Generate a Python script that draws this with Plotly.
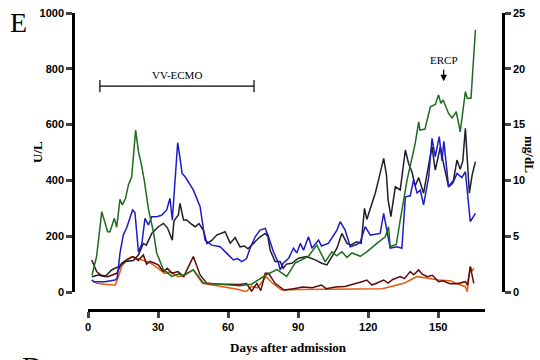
import plotly.graph_objects as go

# ---- data ----
green_days = [1.7, 3.7, 5.9, 6.9, 8.4, 9.4, 11.3, 12.3, 13.7, 14.7, 16.1, 17.3, 18.7, 20.4, 21.6, 22.7,
              24.1, 25.9, 28, 29.4, 32.3, 35.9, 38.7, 41.1, 45.1, 49.4, 55, 60, 65, 70, 73.7, 76, 80.9,
              82.9, 85.1, 88.7, 91.6, 94.4, 98, 99.4, 101.6, 104.4, 106.5, 108.7, 110.9, 113, 116.6,
              119.4, 121, 123.7, 127.3, 128.7, 129.4, 132, 133.7, 136.6, 140.1, 141.6, 142.1, 144.3,
              146.6, 148.7, 150.1, 151.1, 152.1, 154.4, 155.9, 157.7, 159.4, 161.6, 162.4, 164, 165.9]
green_mgdl = [1.5, 3.2, 7.2, 6.5, 5.4, 5.4, 6.6, 5.8, 8.3, 7.8, 8.4, 9.6, 10.3, 14.5, 12.6, 11.6,
              10.0, 7.4, 5.4, 3.5, 2.0, 1.4, 1.6, 1.5, 2.0, 0.8, 0.7, 0.6, 0.55, 0.7, 1.2, 1.5, 2.0,
              1.7, 1.4, 2.6, 2.9, 3.2, 4.2, 3.6, 2.7, 3.6, 3.25, 3.6, 3.1, 3.5, 3.2,
              3.6, 3.9, 4.35, 4.95, 5.85, 4.05, 4.25, 6.45, 10.0, 13.3, 15.25, 14.5, 14.6,
              16.6, 16.8, 17.65, 16.9, 17.2, 16.0, 15.6, 16.15, 14.35, 17.95, 17.35, 17.35, 23.5]

blue_days = [1.6, 2.5, 5, 7.3, 11.6, 12.5, 13.7, 15.1, 16.6, 18, 19.1, 20.1, 20.9, 21.6, 23, 24.4,
             25.9, 27.3, 29.4, 31.5, 33.7, 35.1, 36.1, 37.3, 38.4, 39.4, 40.3, 41.6, 45.1, 48, 50.1,
             53, 56.6, 60.1, 62.3, 64, 65.9, 67.9, 69.4, 71.6, 73.7, 75.9, 77.3, 79.4, 81.6, 82.3,
             83.6, 85.9, 88, 89.4, 90.9, 92.3, 94.4, 95.9, 98.7, 100, 103, 106.6, 108, 110.1, 112.3,
             115.1, 116.6, 118.7, 120.9, 125.1, 126.6, 128, 129.4, 132.3, 134.4, 135.9, 138, 139.4,
             140.9, 142.3, 143.7, 145.9, 147.3, 148.7, 150.4, 151.6, 152.4, 154.4, 156.2, 158, 160.1,
             161.6, 163.7, 165.9]
blue_ul = [43, 37, 37, 37, 43, 50, 139, 204, 231, 270, 294, 285, 198, 144, 170, 264,
           240, 270, 270, 275, 294, 336, 258, 395, 535, 480, 425, 413, 366, 306, 186,
           168, 162, 133, 115, 120, 109, 120, 157, 198, 222, 228, 198, 144, 103, 79,
           103, 121, 157, 140, 174, 150, 198, 157, 186, 165, 175, 222, 252, 222, 162,
           170, 180, 234, 204, 210, 282, 220, 157, 162, 157, 341, 345, 401,
           355, 365, 312, 413, 551, 485, 557, 470, 540, 377, 390, 425, 410,
           431, 252, 282]

black_days = [1.6, 4.4, 7.3, 10.1, 13, 15.9, 19.4, 21.6, 23.7, 25, 27.3, 30.1, 32.3, 34, 36.1, 36.8,
              38.7, 39.4, 40.9, 42.3, 44, 45.9, 47.5, 49.4, 50.9, 53, 55.1, 58.7, 60.9, 63, 65.1, 67,
              68.5, 70.9, 73.7, 75.9, 77, 78, 80.1, 82.3, 83.6, 85, 87.3, 90.1, 93.6, 97.3, 100.1,
              102.3, 104.5, 106.6, 108.7, 110.9, 112.5, 115, 117, 118.4, 119.4, 120.9, 123, 124.4,
              126.6, 127.8, 128.5, 129.7, 131.6, 133.7, 135.9, 137.3, 138.7, 140.1, 141.6, 143.7,
              145.9, 147.3, 148.7, 150.9, 152, 154.4, 156.5, 158, 159.4, 160.5, 161.6, 162.6, 163.3,
              164.5, 165.9]
black_ul = [55, 61, 55, 79, 91, 109, 113, 133, 174, 168, 210, 234, 246, 230, 186, 255,
            276, 318, 258, 258, 245, 234, 245, 222, 174, 185, 204, 216, 175, 195, 162, 165,
            155, 174, 198, 210, 200, 150, 109, 109, 85, 100, 103, 121, 127, 115, 103,
            97, 130, 157, 210, 174, 168, 180, 175, 300, 260, 300, 354, 401,
            479, 420, 330, 270, 377, 366, 509, 460, 431, 380, 410, 354,
            461, 521, 437, 521, 470, 377, 400, 473, 440, 470, 587, 440, 354,
            420, 467]

maroon_days = [1.6, 3.7, 5.5, 8.4, 12.3, 14.4, 16.5, 19.4, 21.5, 23.7, 25.1, 26.5, 28, 30.1, 32.3, 34,
               36, 38.5, 41, 43, 45.1, 48, 50.9, 55, 60.9, 65, 67.9, 70.1, 72.3, 74, 75.9, 77.3, 80.1,
               82, 84, 88, 92, 96, 100, 102, 106, 110, 114, 117.3, 119.4, 121.6, 124, 126.6, 128.5,
               130.5, 133.7, 135.5, 138, 139.5, 141.6, 143, 145.2, 147.5, 150.1, 152, 155, 158, 161.6,
               162.5, 163.7, 164.5, 165.2]
maroon_ul = [115, 73, 61, 55, 67, 103, 115, 127, 113, 133, 100, 110, 105, 97, 73, 85,
             67, 73, 55, 90, 127, 61, 31, 29, 29, 27, 30, 3, 31, 5, 67, 67, 31,
             20, 7, 12, 18, 15, 25, 12, 18, 20, 28, 37, 43, 25, 33, 43, 32,
             45, 55, 48, 73, 62, 79, 65, 55, 60, 37, 40, 30, 30, 37,
             25, 91, 60, 31]

orange_days = [1.6, 3.7, 7, 11.7, 13, 14.4, 16.6, 18.7, 21, 23, 25.4, 27.5, 30.1, 32.9, 35, 38.7, 41,
               45.1, 49, 53, 57, 61, 64, 67.7, 70, 72.5, 76.3, 78.5, 81.6, 82.9, 90, 100, 110, 121.6,
               126, 129.4, 135.2, 138, 140.9, 145, 150, 155, 158, 161.6, 162.4, 163.7, 164.5, 165.2]
orange_ul = [43, 31, 28, 25, 55, 91, 115, 127, 120, 115, 109, 100, 85, 67, 72, 55, 58,
             79, 31, 25, 20, 13, 10, 1, 20, 15, 55, 35, 13, 7, 9, 10, 11, 13,
             12, 19, 31, 43, 55, 50, 43, 40, 30, 19, 1, 91, 75, 85]

x_ticks = [0, 30, 60, 90, 120, 150]
left_ticks = [0, 200, 400, 600, 800, 1000]
right_ticks = [0, 5, 10, 15, 20, 25]

# ---- layout geometry (pixels) ----
W, H = 540, 360
ML, MR, MT, MB = 73, 37, 13, 50
PW, PH = W - ML - MR, H - MT - MB


def px(x):
    return (x - ML) / PW


def py(y):
    return (H - MB - y) / PH


fig = go.Figure()
lw = 1.5
fig.add_trace(go.Scatter(x=orange_days, y=orange_ul, mode="lines",
                         line=dict(color="#e8590c", width=lw), yaxis="y"))
fig.add_trace(go.Scatter(x=maroon_days, y=maroon_ul, mode="lines",
                         line=dict(color="#5c0a0a", width=lw), yaxis="y"))
fig.add_trace(go.Scatter(x=green_days, y=green_mgdl, mode="lines",
                         line=dict(color="#1f6b1f", width=lw), yaxis="y2"))
fig.add_trace(go.Scatter(x=black_days, y=black_ul, mode="lines",
                         line=dict(color="#1e1e2c", width=lw), yaxis="y"))
fig.add_trace(go.Scatter(x=blue_days, y=blue_ul, mode="lines",
                         line=dict(color="#1c1cc8", width=lw), yaxis="y"))

tickfont = dict(family="Liberation Sans", size=11, color="black", weight="bold")
axis_common = dict(ticks="outside", ticklen=6, tickwidth=2.5, showline=True, linewidth=2.5,
                   linecolor="black", showgrid=False, zeroline=False, tickfont=tickfont,
                   automargin=False)

fig.update_layout(
    width=W, height=H,
    margin=dict(l=ML, r=MR, t=MT, b=MB, pad=0, autoexpand=False),
    plot_bgcolor="white", paper_bgcolor="white",
    showlegend=False,
    xaxis=dict(range=[0, 170], domain=[px(88), px(485)], anchor="free", position=0,
               tickvals=x_ticks, **axis_common),
    yaxis=dict(range=[0, 1000], domain=[py(292), 1], anchor="free", position=0,
               tickvals=left_ticks, **axis_common),
    yaxis2=dict(range=[0, 25], overlaying="y", side="right", anchor="free", position=1,
                tickvals=right_ticks, **axis_common),
)

serif = "Liberation Serif"
anns = [
    dict(text="E", x=px(18), y=py(23), font=dict(family=serif, size=28, color="black")),
    dict(text="<b>U/L</b>", x=px(37), y=py(152), textangle=-90,
         font=dict(family=serif, size=13, color="black")),
    dict(text="<b>mg/dL</b>", x=px(529), y=py(154), textangle=90,
         font=dict(family=serif, size=13, color="black")),
    dict(text="<b>Days after admission</b>", x=px(288), y=py(347),
         font=dict(family=serif, size=13, color="black")),
    dict(text="D", x=px(32), y=py(366), font=dict(family=serif, size=28, color="black")),
]
for a in anns:
    fig.add_annotation(xref="paper", yref="paper", showarrow=False,
                       xanchor="center", yanchor="middle", **a)

# VV-ECMO bracket
fig.add_annotation(text="VV-ECMO", xref="x", yref="y", x=38, y=778, showarrow=False,
                   font=dict(family=serif, size=11, color="black"))
fig.add_shape(type="line", xref="x", yref="y", x0=5.1, x1=71.1, y0=738, y1=738,
              line=dict(color="black", width=1.2))
for xe in (5.1, 71.1):
    fig.add_shape(type="line", xref="x", yref="y", x0=xe, x1=xe, y0=716, y1=760,
                  line=dict(color="black", width=1.2))

# ERCP arrow
fig.add_annotation(text="ERCP", xref="x", yref="y", x=152.3, y=833, showarrow=False,
                   font=dict(family=serif, size=11, color="black"))
fig.add_annotation(text="", xref="x", yref="y", x=152.3, y=755, ax=0, ay=-13,
                   showarrow=True, arrowhead=2, arrowsize=1, arrowwidth=1.3,
                   arrowcolor="black")

fig.write_html("out.html", config={"displayModeBar": False},
               post_script="document.body.style.margin='0';document.body.style.overflow='hidden';")
